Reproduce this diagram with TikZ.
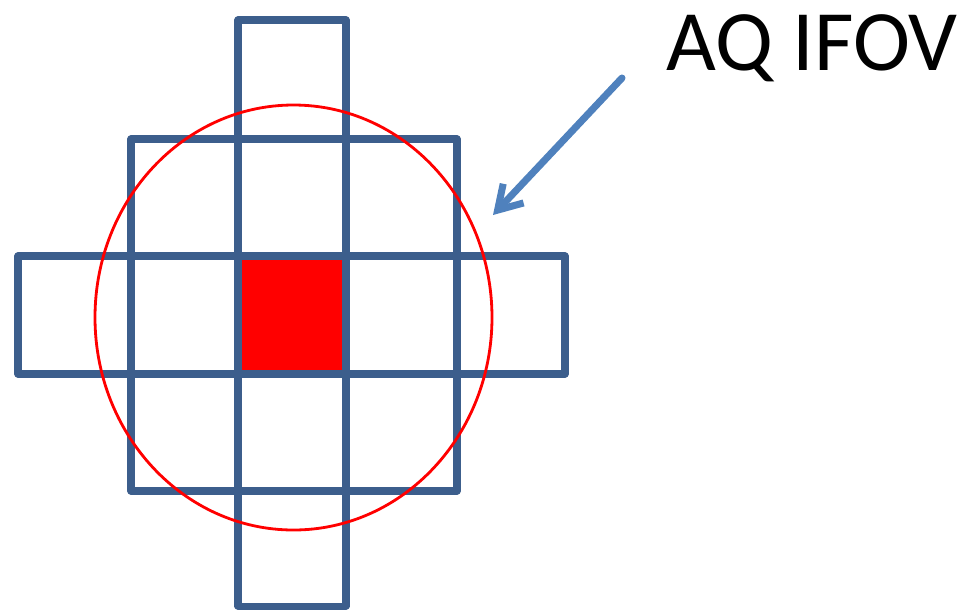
\documentclass[tikz,border=0pt]{standalone}
\usepackage{fontspec}
\setmainfont{Carlito}
\usetikzlibrary{arrows.meta}
\definecolor{gridblue}{RGB}{60,94,140}
\definecolor{arrowblue}{RGB}{79,129,189}

\begin{document}
\begin{tikzpicture}[x=0.02cm, y=-0.02cm,
    cell/.style={draw=gridblue, line width=4pt, line join=round},
    fov/.style={draw=red, line width=1.6pt},
    pointer/.style={-{Straight Barb[length=4.6mm, width=5.6mm]}, arrowblue, line width=4pt, line cap=round}]
	\useasboundingbox (0,0) rectangle (974,610);
	% centre pixel
	\fill[red] (238,256) rectangle (346,374);
	% footprint cells
	\foreach \xa/\ya/\xb/\yb in {238/20/346/139,
			131/139/238/256, 238/139/346/256, 346/139/457/256,
			18/256/131/374, 131/256/238/374, 238/256/346/374, 346/256/457/374, 457/256/565/374,
			131/374/238/491, 238/374/346/491, 346/374/457/491,
			238/491/346/606}
		\draw[cell] (\xa,\ya) rectangle (\xb,\yb);
	\draw[fov] (293.5,317.5) ellipse [x radius=198.5, y radius=212.5];
	\node[anchor=base, font=\fontsize{49}{52}\selectfont, inner sep=0pt] (ifov) at (812,70) {AQ IFOV};
	\coordinate (tail) at (622,78);
	\coordinate (tip) at (493,215);
	\draw[pointer] (tail) -- (tip);
\end{tikzpicture}
\end{document}
